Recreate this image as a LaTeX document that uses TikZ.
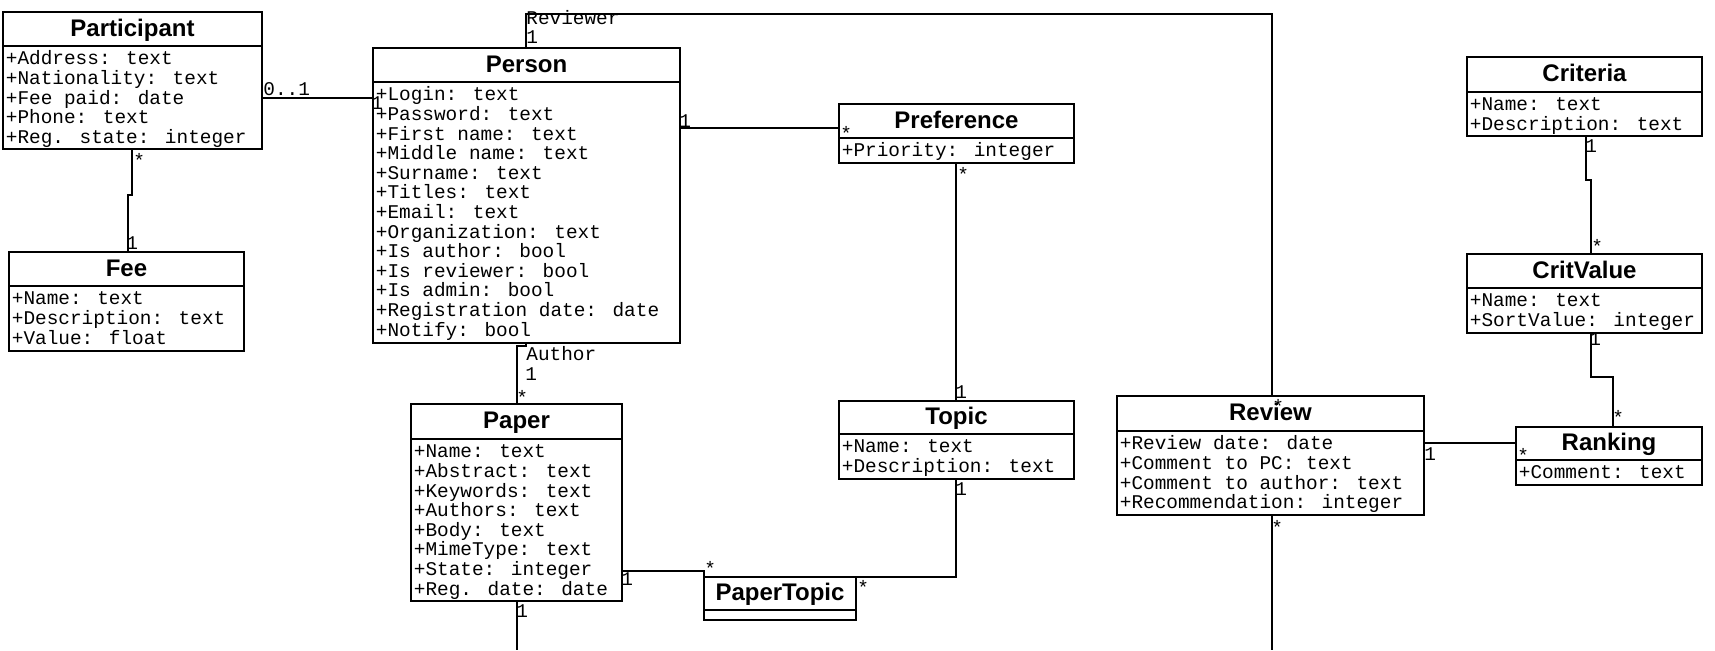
\documentclass[tikz,border=0pt]{standalone}
\usepackage{fontspec}
\setmainfont{Liberation Sans}
\newfontfamily\monof{Liberation Mono}
\tikzset{
  clsbox/.style={draw, line width=1.2pt, anchor=north west, inner sep=0pt, outer sep=0pt, fill=white},
  hdrbox/.style={draw, line width=1.2pt, anchor=north west, inner sep=0pt, outer sep=0pt},
  titletext/.style={font=\bfseries\fontsize{12pt}{12pt}\selectfont, inner sep=0pt, anchor=base},
  attrtext/.style={font=\monof\fontsize{9.7pt}{9.8pt}\selectfont, align=left, inner sep=0pt, anchor=north west},
  mult/.style={font=\monof\fontsize{9.7pt}{9.8pt}\selectfont, inner sep=0pt, anchor=base west},
  conn/.style={line width=1pt}
}
\newcommand\umlcls[8]{%
  \node[clsbox, minimum width={#4*0.5pt}, minimum height={#6*0.5pt}] (#1) at (#2,#3) {};
  \node[hdrbox, minimum width={#4*0.5pt}, minimum height={#5*0.5pt}] (#1-h) at (#2,#3) {};
  \node[titletext] (#1-t) at ([yshift=-3.7pt]#1-h.center) {#7};
  \node[attrtext] (#1-a) at ([xshift=1.25pt,yshift=-1.75pt]#1-h.south west) {\rule{0pt}{7.5pt}#8};
}
\begin{document}
\begin{tikzpicture}[x=0.5pt, y=-0.5pt]
\fill[white] (0,0) rectangle (1715,650);
\useasboundingbox (0,0) rectangle (1715,650);

% classes
\umlcls{participant}{3}{12}{259}{34}{137}{Participant}{+Address: text\\+Nationality: text\\+Fee paid: date\\+Phone: text\\+Reg. state: integer}
\umlcls{fee}{9}{252}{235}{34}{99}{Fee}{+Name: text\\+Description: text\\+Value: float}
\umlcls{person}{373}{48}{307}{34}{295}{Person}{+Login: text\\+Password: text\\+First name: text\\+Middle name: text\\+Surname: text\\+Titles: text\\+Email: text\\+Organization: text\\+Is author: bool\\+Is reviewer: bool\\+Is admin: bool\\+Registration date: date\\+Notify: bool}
\umlcls{preference}{839}{104}{235}{34}{59}{Preference}{+Priority: integer}
\umlcls{paper}{411}{404}{211}{35}{197}{Paper}{+Name: text\\+Abstract: text\\+Keywords: text\\+Authors: text\\+Body: text\\+MimeType: text\\+State: integer\\+Reg. date: date}
\umlcls{topic}{839}{401}{235}{33}{78}{Topic}{+Name: text\\+Description: text}
\umlcls{papertopic}{704}{577}{152}{33}{43}{PaperTopic}{}
\umlcls{review}{1117}{396}{307}{35}{119}{Review}{+Review date: date\\+Comment to PC: text\\+Comment to author: text\\+Recommendation: integer}
\umlcls{ranking}{1516}{427}{186}{33}{58}{Ranking}{+Comment: text}
\umlcls{criteria}{1467}{57}{235}{35}{79}{Criteria}{+Name: text\\+Description: text}
\umlcls{critvalue}{1467}{254}{235}{34}{79}{CritValue}{+Name: text\\+SortValue: integer}

% helper coordinates
\coordinate (pp) at (300,98);
\coordinate (pf1) at (132,195);
\coordinate (pf2) at (128,195);
\coordinate (pr) at (760,128);
\coordinate (pt) at (956,280);
\coordinate (rv1) at (526,14);
\coordinate (rv2) at (1272,14);
\coordinate (au1) at (526,346);
\coordinate (au2) at (517,346);
\coordinate (pb) at (517,650);
\coordinate (ppt1) at (704,571);
\coordinate (tp1) at (956,577);
\coordinate (rb) at (1272,650);
\coordinate (rr) at (1470,443);
\coordinate (cc1) at (1586,180);
\coordinate (cc2) at (1591,180);
\coordinate (cr1) at (1591,377);
\coordinate (cr2) at (1613,377);

% connectors
\draw[conn] (participant.east |- pp) -- (person.west |- pp);
\draw[conn] (participant.south -| pf1) -- (pf1) -- (pf2) -- (fee.north -| pf2);
\draw[conn] (person.east |- pr) -- (preference.west |- pr);
\draw[conn] (preference.south -| pt) -- (topic.north -| pt);
\draw[conn] (person.north -| rv1) -- (rv1) -- (rv2) -- (review.north -| rv2);
\draw[conn] (person.south -| au1) -- (au1) -- (au2) -- (paper.north -| au2);
\draw[conn] (paper.south -| pb) -- (pb);
\draw[conn] (paper.east |- ppt1) -- (ppt1) -- (papertopic.north west);
\draw[conn] (topic.south -| tp1) -- (tp1) -- (papertopic.north east);
\draw[conn] (review.south -| rb) -- (rb);
\draw[conn] (review.east |- rr) -- (ranking.west |- rr);
\draw[conn] (criteria.south -| cc1) -- (cc1) -- (cc2) -- (critvalue.north -| cc2);
\draw[conn] (critvalue.south -| cr1) -- (cr1) -- (cr2) -- (ranking.north -| cr2);

% multiplicities and role names
\node[mult] (m1) at (263,95) {0..1};
\node[mult] (m2) at (371,109) {1};
\node[mult] (m3) at (526,24) {Reviewer};
\node[mult] (m4) at (526,43) {1};
\node[mult] (m5) at (679,127) {1};
\node[mult] (m6) at (840,140) {*};
\node[mult] (m7) at (957,181) {*};
\node[mult] (m8) at (955,398) {1};
\node[mult] (m9) at (955,495) {1};
\node[mult] (m10) at (857,594) {*};
\node[mult] (m11) at (704,575) {*};
\node[mult] (m12) at (621,585) {1};
\node[mult] (m13) at (516,404) {*};
\node[mult] (m14) at (516,617) {1};
\node[mult] (m15) at (526,360) {Author};
\node[mult] (m16) at (525,380) {1};
\node[mult] (m17) at (133,167) {*};
\node[mult] (m18) at (126,249) {1};
\node[mult] (m19) at (1585,152) {1};
\node[mult] (m20) at (1591,253) {*};
\node[mult] (m21) at (1589,345) {1};
\node[mult] (m22) at (1612,424) {*};
\node[mult] (m23) at (1272,413) {*};
\node[mult] (m24) at (1424,460) {1};
\node[mult] (m25) at (1517,462) {*};
\node[mult] (m26) at (1271,534) {*};
\end{tikzpicture}
\end{document}
